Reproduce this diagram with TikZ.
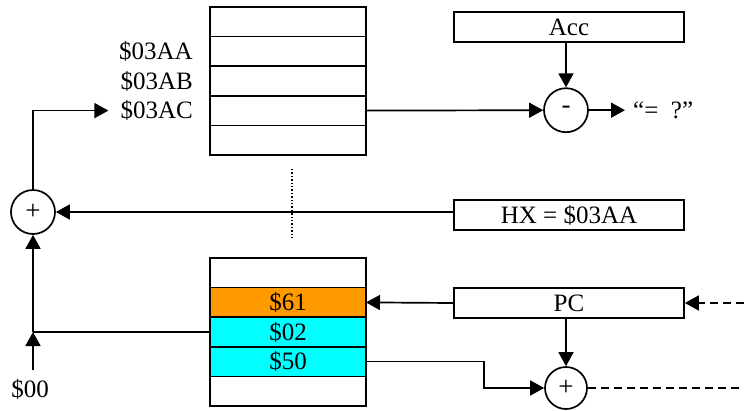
\documentclass[tikz,border=0pt]{standalone}
\usepackage{fontspec}
\setmainfont{Liberation Serif}
\usepackage{tikz}
\usetikzlibrary{arrows.meta, positioning}
\definecolor{cellorange}{HTML}{FF9900}
\definecolor{cellcyan}{HTML}{00FFFF}

\begin{document}
\begin{tikzpicture}[
  x=1pt, y=-1pt,
  font=\fontsize{25}{28}\selectfont,
  cell/.style={rectangle, draw=black, line width=1.7pt, minimum width=156pt,
               minimum height=29.6pt, inner sep=0pt, outer sep=0pt},
  orangecell/.style={cell, fill=cellorange},
  cyancell/.style={cell, fill=cellcyan},
  regbox/.style={rectangle, draw=black, line width=1.7pt, minimum width=230pt,
                 minimum height=30pt, inner sep=0pt},
  sumnode/.style={circle, draw=black, line width=1.7pt, minimum size=44pt,
                  inner sep=0pt, font=\fontsize{27}{28}\selectfont},
  addr/.style={inner xsep=8pt, inner ysep=1pt},
  arrow/.style={-{Triangle[length=14pt,width=15pt]}, line width=1.7pt},
  link/.style={line width=1.7pt},
  dashlink/.style={line width=1.7pt, dash pattern=on 8pt off 5pt}
]
\useasboundingbox (0,0) rectangle (744,410);

\node[cell] (t1) at (288,21.8) {};
\node[cell, below=0pt of t1] (t2) {};
\node[cell, below=0pt of t2] (t3) {};
\node[cell, below=0pt of t3] (t4) {};
\node[cell, below=0pt of t4] (t5) {};
\node[addr, left=9pt of t2] (la) {\$03AA};
\node[addr, left=9pt of t3] (lb) {\$03AB};
\node[addr, left=9pt of t4] (lc) {\$03AC};

\node[cell] (b1) at (288,272.8) {};
\node[orangecell, below=0pt of b1] (b2) {\$61};
\node[cyancell, below=0pt of b2] (b3) {\$02};
\node[cyancell, below=0pt of b3] (b4) {\$50};
\node[cell, below=0pt of b4] (b5) {};

\node[regbox] (acc) at (569,27) {Acc};
\node[regbox] (hx) at (569,215) {HX = \$03AA};
\node[regbox] (pc) at (569,303) {PC};

\node[sumnode] (sub) at (566,110.2) {-};
\node[sumnode] (add) at (33,212) {+};
\node[sumnode, minimum size=42pt] (inc) at (566,388) {+};

\node[anchor=west, inner xsep=8pt] (res) at (625,110.2) {``=\ \ ?''};
\node (zero) at (30,389) {\$00};
\coordinate (jn) at (add.south |- b3.west);
\coordinate (pcin) at (744,303);
\coordinate (incout) at (744,388);

\draw[dotted, line width=1.4pt] ([xshift=4pt,yshift=-14pt]t5.south) -- ([xshift=4pt,yshift=18pt]b1.north);

\draw[arrow, shorten >=4pt] (add.north) |- (lc.west);
\draw[arrow] (t4.east) -- (sub.west);
\draw[arrow] (sub.north |- acc.south) -- (sub.north);
\draw[arrow] (sub.east) -- (res.west);
\draw[arrow] (hx.west |- add.east) -- (add.east);
\draw[arrow] (pc.west) -- (b2.east);
\draw[arrow, dashlink] (pcin) -- (pc.east);
\draw[arrow] (inc.north |- pc.south) -- (inc.north);
\draw[arrow] (b4.east) -- ++(118,0) |- (inc.west);
\draw[dashlink] (inc.east) -- (incout);
\draw[link] (b3.west) -- (jn);
\draw[arrow, shorten <=5pt] (jn |- zero.north) -- (jn);
\draw[arrow] (jn) -- (add.south);
\end{tikzpicture}
\end{document}
